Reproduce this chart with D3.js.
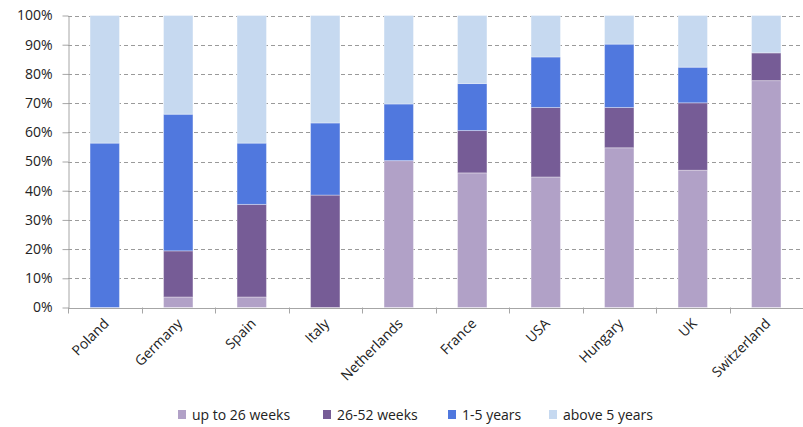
<!DOCTYPE html>
<html>
<head>
<meta charset="utf-8">
<script src="https://cdn.jsdelivr.net/npm/d3@7"></script>
<style>
  body { margin: 0; background: #fff; }
  text { font-family: "Open Sans", Lato, sans-serif; fill: #222; }
</style>
</head>
<body>
<svg id="chart" width="803" height="427"></svg>
<script>
// data
var countries = ["Poland", "Germany", "Spain", "Italy", "Netherlands", "France", "USA", "Hungary", "UK", "Switzerland"];
var seriesNames = ["up to 26 weeks", "26-52 weeks", "1-5 years", "above 5 years"];
var upTo26 = [0, 3.6, 3.6, 0, 50.3, 46.1, 44.7, 54.7, 47.0, 77.7];
var w26to52 = [0, 15.8, 31.7, 38.5, 0, 14.5, 23.8, 13.8, 23.1, 9.5];
var y1to5 = [56.3, 46.8, 21.0, 24.7, 19.4, 16.1, 17.3, 21.7, 12.2, 0];
var above5 = [43.7, 33.8, 43.7, 36.8, 30.3, 23.3, 14.2, 9.8, 17.7, 12.8];
var yTicks = [0, 10, 20, 30, 40, 50, 60, 70, 80, 90, 100];
var colours = ["#b1a1c7", "#765c96", "#5078de", "#c6d9f0"];

var rows = countries.map(function(c, i) {
    return {country: c, s0: upTo26[i], s1: w26to52[i], s2: y1to5[i], s3: above5[i]};
});

var svg = d3.select("#chart");
var mLeft = 68, mRight = 803, mTop = 15.5, mBottom = 307.5;
var fontSize = "14px";

var x = d3.scaleBand().domain(countries).range([mLeft, mRight]).paddingInner(0.6).paddingOuter(0.3);
var xTick = d3.scaleBand().domain(countries).range([mLeft, mRight]);
var y = d3.scaleLinear().domain([0, 100]).range([mBottom, mTop]);

// dashed grid
svg.append("g")
    .selectAll("line")
    .data(yTicks.slice(1))
    .enter()
    .append("line")
    .attr("x1", mLeft)
    .attr("x2", mRight)
    .attr("y1", function(d) { return Math.round(y(d)) + 0.5; })
    .attr("y2", function(d) { return Math.round(y(d)) + 0.5; })
    .attr("stroke", "#9a9a9a")
    .attr("stroke-dasharray", "4,3");

// stacked bars
var stack = d3.stack().keys(["s0", "s1", "s2", "s3"]);
var layers = stack(rows);

svg.append("g")
    .selectAll("g")
    .data(layers)
    .enter()
    .append("g")
    .attr("fill", function(d, i) { return colours[i]; })
    .selectAll("rect")
    .data(function(d) { return d; })
    .enter()
    .append("rect")
    .attr("x", function(d) { return x(d.data.country); })
    .attr("width", x.bandwidth())
    .attr("y", function(d) { return y(d[1]); })
    .attr("height", function(d) { return Math.max(0, y(d[0]) - y(d[1])); })
    .attr("stroke", "rgba(255,255,255,0.35)")
    .attr("stroke-width", 1);

// y axis
var yAxis = svg.append("g")
    .attr("transform", "translate(" + (mLeft + 0.5) + ",0)")
    .call(d3.axisLeft(y).tickValues(yTicks).tickFormat(function(d) { return d + "%"; }).tickSize(6).tickSizeOuter(0));
yAxis.select(".domain").attr("stroke", "#a6a6a6");
yAxis.selectAll(".tick line").attr("stroke", "#a6a6a6");
yAxis.selectAll(".tick text")
    .attr("x", -16)
    .style("font-size", fontSize)
    .style("font-family", "'Open Sans', sans-serif")
    .attr("fill", "#222");

// x axis
var xAxis = svg.append("g")
    .attr("transform", "translate(0," + (mBottom + 0.5) + ")")
    .call(d3.axisBottom(xTick).tickSize(0).tickFormat(""));
xAxis.select(".domain").attr("stroke", "#a6a6a6");

// category ticks at band edges
svg.append("g")
    .selectAll("line")
    .data(countries)
    .enter()
    .append("line")
    .attr("x1", function(d) { return Math.round(xTick(d)) + 0.5; })
    .attr("x2", function(d) { return Math.round(xTick(d)) + 0.5; })
    .attr("y1", mBottom)
    .attr("y2", mBottom + 6)
    .attr("stroke", "#a6a6a6");

svg.append("g")
    .selectAll("text")
    .data(countries)
    .enter()
    .append("text")
    .attr("transform", function(d) {
        return "translate(" + (xTick(d) + xTick.bandwidth() / 2 + 5) + "," + (mBottom + 17) + ") rotate(-45)";
    })
    .attr("text-anchor", "end")
    .style("font-size", fontSize)
    .text(function(d) { return d; });

// legend
var legendX = [178, 323, 448, 549];
var legend = svg.append("g")
    .selectAll("g")
    .data(seriesNames)
    .enter()
    .append("g")
    .attr("transform", function(d, i) { return "translate(" + legendX[i] + ",410)"; });
legend.append("rect")
    .attr("width", 8)
    .attr("height", 9)
    .attr("fill", function(d, i) { return colours[i]; });
legend.append("text")
    .attr("x", 14)
    .attr("y", 10)
    .style("font-size", fontSize)
    .text(function(d) { return d; });
</script>
</body>
</html>
